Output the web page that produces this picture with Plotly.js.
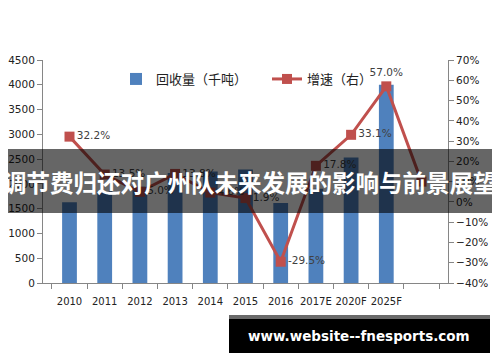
<!DOCTYPE html>
<html>
<head>
<meta charset="utf-8">
<script src="https://cdn.plot.ly/plotly-3.0.1.min.js"></script>
<style>
html,body{margin:0;padding:0;background:#fff;}
#chart{width:500px;height:362px;}
</style>
</head>
<body>
<div id="chart"></div>
<script>
const categories = ['2010','2011','2012','2013','2014','2015','2016','2017E','2020F','2025F',' '];
const recovery = [1630, 1850, 1940, 2220, 2250, 2290, 1614, 1900, 2530, 4000, null];
const growth = [32.2, 13.5, 5.0, 13.8, 4.6, 1.9, -29.5, 17.8, 33.1, 57.0, 10.0];
const growthLabels = ['32.2%','13.5%','5.0%','13.8%','4.6%','1.9%','-29.5%','17.8%','33.1%','57.0%',''];
const labelPos = ['middle right','middle right','middle right','middle right','middle right','middle right','middle right','middle right','middle right','top center','middle right'];
const barName = '回收量（千吨）';
const lineName = '增速（右）';
const bannerText = '调节费归还对广州队未来发展的影响与前景展望';
const siteText = 'www.website--fnesports.com';

// pixel -> paper helpers (plot area: x 43..448, y 60..283)
const L = 43, R = 448, T = 60, B = 283;
const px = v => (v - L) / (R - L);
const py = v => (B - v) / (B - T);

const axisColor = '#868686';
const font = {family: 'DejaVu Sans, Verdana, sans-serif', size: 10.5, color: '#222'};

const traces = [
  {
    type: 'bar', name: barName, x: categories, y: recovery,
    marker: {color: '#4F81BD'}, width: 0.42, hoverinfo: 'skip'
  },
  {
    type: 'scatter', mode: 'lines+markers+text', name: lineName, x: categories, y: growth,
    yaxis: 'y2', text: growthLabels, textposition: labelPos,
    textfont: {family: font.family, size: 10.5, color: '#404040'},
    line: {color: '#C0504D', width: 3},
    marker: {symbol: 'square', size: 10, color: '#C0504D'},
    cliponaxis: false, hoverinfo: 'skip'
  }
];

const layout = {
  width: 500, height: 362,
  margin: {l: L, r: 500 - R, t: T, b: 362 - B, pad: 0},
  paper_bgcolor: '#fff', plot_bgcolor: '#fff',
  font: font,
  showlegend: true,
  legend: {
    orientation: 'h', x: px(116), y: py(64), xanchor: 'left', yanchor: 'top',
    bgcolor: 'rgba(0,0,0,0)', font: {family: 'Noto Sans CJK SC, sans-serif', size: 13, color: '#222'},
    itemwidth: 30, tracegroupgap: 0, entrywidth: 106, entrywidthmode: 'pixels'
  },
  xaxis: {
    type: 'category', showline: true, linecolor: axisColor, linewidth: 1,
    ticks: 'outside', tickson: 'boundaries', ticklen: 5, tickcolor: axisColor,
    showgrid: false, zeroline: false, tickangle: 0, ticklabelstandoff: 9,
    tickfont: {family: font.family, size: 10, color: '#222'}, fixedrange: true
  },
  yaxis: {
    range: [0, 4500], dtick: 500, showline: true, linecolor: axisColor,
    ticks: 'outside', ticklen: 5, tickcolor: axisColor, showgrid: false,
    zeroline: false, tickfont: font, fixedrange: true
  },
  yaxis2: {
    overlaying: 'y', side: 'right', range: [-40, 70], dtick: 10, ticksuffix: '%',
    showline: true, linecolor: axisColor, ticks: 'outside', ticklen: 5, tickcolor: axisColor,
    showgrid: false, zeroline: false, tickfont: font, fixedrange: true
  },
  shapes: [
    {type: 'rect', xref: 'paper', yref: 'paper', layer: 'above',
     x0: px(8), x1: px(492), y0: py(149), y1: py(213),
     fillcolor: 'rgba(0,0,0,0.6)', line: {width: 0}},
    {type: 'rect', xref: 'paper', yref: 'paper', layer: 'above',
     x0: px(229), x1: px(490), y0: py(315), y1: py(319),
     fillcolor: '#6a6a6a', line: {width: 0}},
    {type: 'rect', xref: 'paper', yref: 'paper', layer: 'above',
     x0: px(229), x1: px(490), y0: py(319), y1: py(353),
     fillcolor: '#000', line: {width: 0}}
  ],
  annotations: [
    {xref: 'paper', yref: 'paper', x: px(250), y: py(182), xanchor: 'center', yanchor: 'middle',
     text: '<b>' + bannerText + '</b>', showarrow: false,
     font: {family: 'Noto Sans CJK SC, sans-serif', size: 23.5, color: '#fff'}},
    {xref: 'paper', yref: 'paper', x: px(359), y: py(336), xanchor: 'center', yanchor: 'middle',
     text: '<b>' + siteText + '</b>', showarrow: false,
     font: {family: 'DejaVu Sans, sans-serif', size: 13.5, color: '#fff'}}
  ]
};

Plotly.newPlot('chart', traces, layout, {displayModeBar: false, staticPlot: true});
</script>
</body>
</html>
